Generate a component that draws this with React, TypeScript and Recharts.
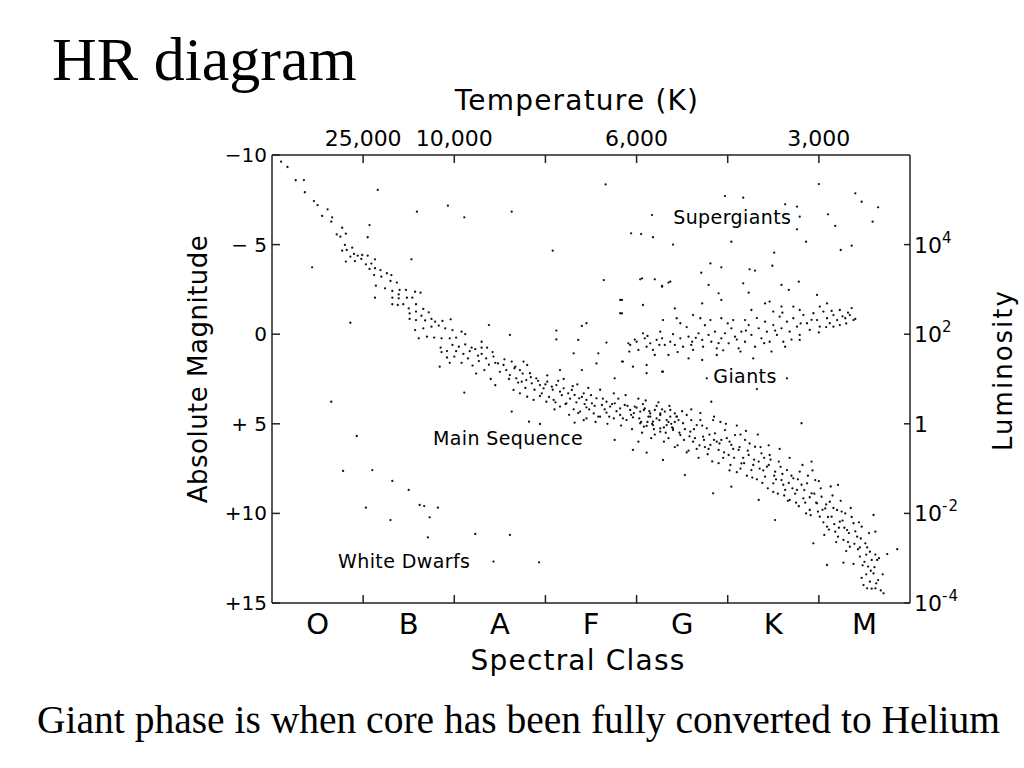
import { ScatterChart, Scatter, XAxis, YAxis, ReferenceDot } from 'recharts';

type Pt = [number, number];

// x = position along the spectral sequence (O = 0..1, B = 1..2, ... M = 6..7), y = absolute magnitude
const spectralClasses = ['O', 'B', 'A', 'F', 'G', 'K', 'M'];
const bottomTicks = [0.5, 1, 1.5, 2, 2.5, 3, 3.5, 4, 4.5, 5, 5.5, 6, 6.5];
const temperatureTicks = [1, 2, 3, 4, 5, 6];
const temperatureLabels: Record<number, string> = { 1: '25,000', 2: '10,000', 4: '6,000', 6: '3,000' };
const magnitudeTicks = [-10, -5, 0, 5, 10, 15];
const magnitudeLabels = ['−10', '− 5', '0', '+ 5', '+10', '+15'];
const luminosityTicks = [-5, 0, 5, 10, 15];
const luminosityBase = ['10', '10', '1', '10', '10'];
const luminosityExp = ['4', '2', '', '-2', '-4'];

const upperMainSequence: Pt[] = [
  [0.10, -9.63], [0.17, -9.33], [0.26, -8.59], [0.35, -8.6], [0.36, -7.92], [0.46, -7.43], [0.50, -7.2],
  [0.61, -6.97], [0.55, -6.6], [0.66, -6.52], [0.65, -6.28], [0.77, -5.94], [0.71, -5.57], [0.75, -5.44],
  [0.81, -5.61], [0.80, -4.98], [0.88, -4.83], [0.77, -4.66], [0.82, -4.7], [0.86, -4.33], [0.90, -4.48],
  [0.94, -4.38], [0.99, -4.42], [1.05, -4.38], [0.81, -4.05], [0.91, -4.08], [0.98, -4.2], [1.03, -3.9],
  [1.09, -3.94], [1.13, -4.18], [1.07, -3.64], [1.13, -3.68], [1.19, -3.58], [1.26, -3.4], [1.31, -3.3],
  [1.12, -3.3], [1.2, -3.21], [1.30, -2.97], [1.37, -2.88], [1.14, -2.71], [1.24, -2.56], [1.32, -2.41],
  [1.4, -2.47], [1.47, -2.47], [1.57, -2.37], [1.63, -2.32], [1.39, -2.22], [1.32, -2.04], [1.39, -2.0],
  [1.48, -2.04], [1.54, -2.04], [1.32, -1.67], [1.38, -1.63], [1.44, -1.67], [1.5, -1.44], [1.58, -1.67],
  [1.66, -1.41], [1.72, -1.22], [1.51, -1.16], [1.58, -1.26], [1.64, -1.03], [1.51, -0.85], [1.58, -0.79],
  [1.68, -0.77], [1.75, -0.85], [1.79, -0.7], [1.87, -0.74], [1.96, -0.83], [1.57, -0.23], [1.66, -0.33],
  [1.75, -0.42], [1.83, -0.48], [1.9, -0.33], [1.98, -0.23], [2.08, -0.14], [2.12, 0.0], [1.61, 0.23],
  [1.7, 0.14], [1.78, 0.19], [1.86, 0.23], [1.95, 0.23], [2.02, 0.19], [1.85, 0.75], [1.92, 0.94],
  [1.98, 0.6], [2.05, 0.7], [2.12, 0.57], [2.19, 0.75], [2.23, 0.83], [2.3, 0.42], [2.3, 0.75], [2.36, 0.75],
  [1.92, 1.3], [2.0, 1.25], [2.08, 1.6], [2.15, 1.35], [2.2, 1.75], [2.27, 1.5], [2.33, 2.0], [2.38, 1.7],
  [2.24, 2.2], [2.4, 2.5], [2.3, 1.1], [2.45, 2.85], [1.86, 1.0], [1.95, 1.6], [2.02, 0.95], [2.1, 1.1],
  [2.17, 0.95], [2.26, 1.2], [2.35, 1.35], [2.42, 1.0],
];

const middleMainSequence: Pt[] = [
  [2.43, 1.25], [2.48, 1.63], [2.54, 1.72], [2.57, 2.0], [2.63, 1.53], [2.67, 1.81], [2.72, 2.0], [2.76, 1.53],
  [2.8, 1.72], [2.83, 2.18], [2.61, 2.28], [2.68, 2.46], [2.74, 2.65], [2.79, 2.56], [2.85, 2.74], [2.9, 2.46],
  [2.94, 2.84], [2.98, 3.02], [3.02, 2.65], [3.07, 2.93], [3.12, 2.84], [3.16, 3.21], [3.2, 3.02], [3.25, 3.3],
  [3.29, 3.11], [3.32, 3.39], [3.37, 3.58], [3.42, 3.3], [3.45, 3.67], [3.51, 3.86], [3.56, 3.58], [3.62, 3.95],
  [3.67, 3.77], [3.71, 4.04], [3.76, 3.86], [3.82, 4.14], [3.87, 3.95], [3.93, 4.23], [3.98, 4.04], [4.04, 4.32],
  [4.09, 4.14], [4.15, 4.42], [4.2, 4.23], [4.26, 4.51], [4.31, 4.32], [4.37, 4.6], [4.42, 4.42], [4.46, 4.79],
  [2.65, 3.11], [2.72, 3.3], [2.8, 3.49], [2.87, 3.67], [2.94, 3.45], [3.01, 3.77], [3.09, 3.67], [3.16, 4.04],
  [3.23, 3.86], [3.31, 4.19], [3.38, 4.32], [3.45, 4.08], [3.53, 4.42], [3.6, 4.6], [3.67, 4.38], [3.75, 4.7],
  [3.82, 4.51], [3.89, 4.79], [3.96, 4.64], [4.04, 4.97], [4.11, 5.12], [4.18, 4.88], [4.26, 5.25], [4.33, 5.07],
  [4.4, 5.35],
  [2.45, 1.6], [2.5, 2.1], [2.55, 1.4], [2.6, 2.5], [2.66, 1.9], [2.7, 2.7], [2.75, 2.2], [2.78, 3.0],
  [2.84, 2.4], [2.88, 3.1], [2.92, 2.6], [2.96, 3.3], [3.0, 2.8], [3.04, 3.5], [3.08, 3.1], [3.11, 3.8],
  [3.14, 2.6], [3.18, 3.4], [3.22, 3.9], [3.27, 3.6], [3.3, 2.9], [3.34, 3.8], [3.36, 4.4], [3.4, 3.5],
  [3.43, 3.9], [3.48, 4.2], [3.5, 3.4], [3.54, 4.0], [3.58, 4.6], [3.63, 3.6], [3.65, 4.2], [3.7, 4.6],
  [3.73, 3.9], [3.78, 4.3], [3.8, 3.6], [3.85, 4.7], [3.9, 4.0], [3.94, 4.5], [4.0, 4.1], [4.03, 4.7],
  [4.07, 3.9], [4.13, 4.6], [4.17, 5.0], [4.22, 4.7], [4.28, 4.2], [4.35, 4.9], [4.39, 5.2], [4.44, 4.6],
  [3.02, 2.3], [3.1, 4.2], [3.2, 2.5], [3.26, 4.5], [3.35, 2.8], [3.42, 4.8], [3.47, 3.0], [3.55, 4.9],
  [3.6, 3.1], [3.68, 5.0], [3.75, 3.3], [3.83, 5.1], [3.88, 3.4], [3.95, 5.3], [4.02, 3.6], [4.06, 5.5],
  [4.1, 3.7], [4.16, 5.8], [4.24, 3.8], [4.3, 6.0], [4.36, 4.0], [4.42, 6.3], [3.97, 4.4], [4.05, 4.9],
  [4.14, 4.3], [4.19, 5.3], [4.25, 4.8], [4.32, 5.5], [4.38, 5.0],
];

const lowerMainSequence: Pt[] = [
  [4.08, 4.23], [4.15, 4.6], [4.08, 5.16], [4.18, 5.07], [4.26, 4.42], [4.26, 5.44], [4.33, 4.79], [4.37, 4.23],
  [4.4, 5.25], [4.44, 4.6], [4.48, 5.63], [4.51, 4.97], [4.55, 4.51], [4.59, 5.44], [4.62, 6.0], [4.66, 5.07],
  [4.7, 4.79], [4.73, 5.72], [4.77, 5.25], [4.81, 6.18], [4.84, 4.79], [4.86, 5.53], [4.9, 6.46], [4.93, 5.9],
  [4.97, 5.35], [5.01, 6.74], [5.04, 6.18], [5.08, 5.63], [5.12, 6.46], [5.15, 7.21], [5.19, 5.9], [5.23, 6.74],
  [5.26, 7.58], [5.3, 6.28], [5.34, 7.11], [5.37, 6.65], [5.41, 7.95], [5.43, 7.39], [5.46, 6.74], [5.5, 8.32],
  [5.52, 7.67], [5.56, 7.11], [5.59, 8.14], [5.63, 8.69], [5.65, 7.58], [5.68, 9.25], [5.72, 8.04], [5.76, 8.69],
  [5.79, 7.67], [5.83, 9.16], [5.87, 8.32], [5.9, 9.81], [5.92, 8.88], [5.96, 8.14], [5.98, 9.44], [6.01, 10.18],
  [6.03, 9.07], [6.07, 9.72], [6.09, 10.74], [6.12, 9.35], [6.14, 10.18], [6.18, 11.02], [6.2, 9.81], [6.23, 10.46],
  [6.27, 11.48], [6.29, 10.0], [6.31, 10.93], [6.34, 11.86], [6.38, 10.55], [6.42, 11.3], [6.45, 12.41], [6.47, 10.74],
  [6.51, 11.67], [6.54, 12.97], [6.56, 12.14], [6.6, 13.35], [6.64, 12.6], [6.65, 13.72], [6.56, 13.81], [6.49, 14.0],
  [6.62, 14.18],
  [4.12, 4.9], [4.2, 5.6], [4.22, 4.0], [4.3, 5.2], [4.35, 5.8], [4.42, 4.9], [4.45, 6.2], [4.53, 5.3],
  [4.57, 6.5], [4.6, 4.8], [4.64, 5.8], [4.68, 6.9], [4.72, 5.1], [4.75, 6.3], [4.8, 5.6], [4.83, 7.1],
  [4.88, 6.0], [4.92, 4.9], [4.95, 6.9], [4.99, 5.8], [5.03, 7.3], [5.06, 6.4], [5.1, 7.7], [5.14, 5.6],
  [5.17, 6.9], [5.21, 7.9], [5.24, 6.1], [5.28, 7.3], [5.32, 8.1], [5.36, 6.3], [5.39, 7.6], [5.44, 8.6],
  [5.47, 7.0], [5.51, 7.9], [5.55, 8.9], [5.58, 7.4], [5.61, 8.4], [5.66, 9.3], [5.7, 7.9], [5.74, 8.9],
  [5.78, 9.6], [5.81, 8.4], [5.85, 9.4], [5.88, 7.9], [5.91, 10.1], [5.95, 8.9], [5.99, 9.9], [6.02, 8.6],
  [6.05, 10.5], [6.08, 9.5], [6.11, 10.9], [6.15, 9.0], [6.17, 10.6], [6.21, 11.3], [6.25, 9.9], [6.28, 10.8],
  [6.32, 11.6], [6.36, 10.2], [6.4, 11.0], [6.43, 12.0], [6.46, 11.4], [6.5, 12.7], [6.53, 11.9], [6.58, 12.6],
  [6.61, 13.0], [6.63, 13.9], [6.58, 14.2], [6.52, 13.4], [6.68, 14.3], [6.47, 13.6], [4.82, 3.77],
  [4.5, 4.3], [4.55, 6.6], [4.6, 4.2], [4.66, 6.4], [4.7, 4.4], [4.78, 6.7], [4.85, 4.6], [4.9, 7.2],
  [4.98, 5.0], [5.02, 7.6], [5.1, 5.1], [5.14, 7.5], [5.2, 5.4], [5.27, 8.0], [5.33, 5.6], [5.38, 8.3],
  [5.45, 6.2], [5.5, 8.8], [5.57, 6.4], [5.62, 9.0], [5.68, 6.9], [5.75, 9.4], [5.82, 7.3], [5.86, 10.0],
  [5.93, 7.6], [6.0, 8.2], [6.06, 11.2], [6.13, 8.5], [6.19, 11.6], [6.24, 9.3], [6.3, 12.1], [6.35, 9.7],
  [6.44, 10.5], [6.48, 12.9], [6.55, 11.1], [6.66, 12.5], [6.7, 13.4],
  [4.47, 5.5], [4.52, 5.9], [4.58, 5.7], [4.63, 5.3], [4.69, 6.2], [4.74, 5.9], [4.79, 6.4], [4.85, 5.9],
  [4.91, 6.1], [4.96, 6.6], [5.02, 6.0], [5.07, 6.9], [5.13, 6.3], [5.18, 7.2], [5.22, 6.5], [5.29, 7.0],
  [5.35, 7.5], [5.4, 6.9], [5.45, 7.3], [5.53, 8.1], [5.6, 7.8], [5.67, 8.3], [5.71, 8.6], [5.77, 8.1],
  [5.84, 8.7], [5.9, 9.1], [5.97, 9.4], [6.04, 9.8], [6.1, 10.2], [6.16, 9.7], [6.22, 10.8], [6.26, 10.4],
  [6.33, 11.1], [6.39, 11.7], [6.45, 11.9], [6.52, 12.3], [6.57, 13.2], [6.62, 12.3],
];

const giants: Pt[] = [
  [3.93, 0.6], [3.92, 0.97], [4.0, 0.42], [4.07, -0.05], [4.09, 0.23], [4.15, 0.51], [4.18, 0.88], [4.22, 0.32],
  [4.28, 0.23], [4.31, 0.6], [4.37, 0.42], [4.35, 1.16], [4.42, 0.6], [4.48, 0.23], [4.51, 0.7], [4.57, 0.14],
  [4.61, 0.42], [4.62, 0.88], [4.68, -0.05], [4.72, 0.32], [4.73, 0.7], [4.79, 0.04], [4.82, 0.42], [4.86, -0.14],
  [4.88, 0.79], [4.93, 0.23], [4.97, -0.05], [5.01, 0.51], [5.04, -0.33], [5.08, 0.14], [5.12, 0.79], [5.15, -0.14],
  [5.19, 0.42], [5.23, -0.51], [5.26, 0.04], [5.3, 0.7], [5.34, -0.33], [5.37, 0.23], [5.41, -0.7], [5.43, -0.14],
  [5.46, 0.42], [5.5, -0.51], [5.54, 0.04], [5.57, -0.98], [5.59, -0.33], [5.63, 0.7], [5.65, -0.7], [5.68, -0.14],
  [5.72, -0.89], [5.76, -0.42], [5.79, 0.04], [5.83, -1.07], [5.87, -0.61], [5.9, -0.24], [5.94, -1.17], [5.98, -0.79],
  [6.01, -0.42], [6.05, -1.26], [6.09, -0.89], [6.12, -0.61], [6.16, -1.07], [6.2, -0.79], [6.23, -0.51], [6.29, -0.89],
  [6.34, -1.07], [6.38, -0.79], [5.41, -1.72], [5.46, -1.82], [5.5, -1.26], [5.72, -1.54], [5.79, -1.35], [5.59, -1.54],
  [5.26, -1.35], [5.19, -0.79], [5.06, -0.79], [4.93, -0.89], [4.81, -0.79], [4.7, -0.89], [4.62, -1.07], [4.44, -0.89],
  [4.48, -0.61], [4.29, -0.79], [4.26, -0.14], [4.11, 0.7], [4.02, 0.88], [4.2, 1.16], [4.57, 1.35], [4.72, 1.44],
  [4.88, 1.16], [5.14, 0.97], [5.28, 1.35], [5.48, 0.97], [5.61, 0.42], [5.79, 0.32], [6.16, -0.42], [6.09, -1.72],
  [6.23, -1.35], [6.01, -1.54], [6.36, -1.46], [6.4, -0.85], [6.32, -1.2],
  [4.4, 0.0], [4.55, -0.4], [4.65, 0.2], [4.75, -0.5], [4.9, 0.5], [5.0, -0.6], [5.1, 0.3], [5.2, -0.2],
  [5.32, -0.9], [5.4, 0.5], [5.52, -0.2], [5.6, -1.2], [5.7, 0.3], [5.8, -0.6], [5.92, -0.8], [6.0, -0.1],
  [6.08, -0.4], [6.14, -1.3], [6.26, -1.0], [6.3, -0.6], [4.25, 0.6], [4.12, 0.1], [3.98, 0.3], [4.45, 1.0],
  [4.6, 0.6], [4.95, 0.9],
];

const supergiants: Pt[] = [
  [3.66, -8.36], [6.0, -8.38], [4.97, -7.71], [5.17, -7.62], [6.4, -7.86], [6.47, -7.39], [5.63, -7.25], [5.76, -7.12],
  [6.65, -7.08], [6.1, -6.69], [6.18, -6.04], [6.59, -6.28], [4.17, -6.65], [5.79, -6.56], [5.76, -5.85], [3.94, -5.63],
  [4.05, -5.59], [4.18, -5.41], [4.4, -5.0], [5.04, -5.16], [5.86, -5.16], [6.24, -4.7], [6.36, -4.94], [3.08, -4.66],
  [5.51, -4.55], [4.81, -3.95], [4.93, -3.73], [4.71, -3.43], [5.24, -3.62], [5.3, -3.55], [5.49, -3.82], [4.04, -3.06],
  [4.2, -3.06], [3.64, -3.02], [3.82, -1.91], [3.84, -1.16], [4.28, -2.69], [4.35, -2.88],
  [3.84, -1.91], [4.07, -1.63], [4.28, -2.65], [4.37, -2.93], [4.79, -2.75], [4.9, -2.28], [4.93, -1.91], [5.17, -2.84],
  [5.23, -2.32], [5.59, -2.75], [5.67, -2.47], [5.78, -2.93], [5.98, -2.19], [4.72, -1.72], [4.42, -1.44], [4.06, -3.12],
  [3.82, -1.17],
];

const whiteDwarfs: Pt[] = [
  [0.78, 7.63], [1.1, 7.58], [1.32, 8.19], [1.5, 8.69], [1.03, 9.68], [1.3, 10.37], [1.62, 9.53], [1.67, 9.59],
  [1.82, 9.68], [1.73, 10.22], [1.71, 11.34], [2.23, 11.15], [2.61, 11.2], [2.43, 12.69], [2.93, 12.73],
];

const scatteredStars: Pt[] = [
  [1.16, -8.05], [1.05, -5.41], [1.07, -6.09], [1.59, -6.84], [1.93, -7.17], [2.11, -6.52], [1.53, -4.18], [0.44, -3.73],
  [0.86, -0.64], [1.13, -2.04], [2.63, -6.84], [2.38, -0.51], [0.65, 3.77], [0.93, 5.68], [1.84, 1.81],
  [2.11, 3.26], [2.63, 4.32], [2.82, 4.88], [2.94, 5.01], [3.32, 4.94], [3.45, 4.7], [3.16, 2.0], [2.61, 0.04],
  [3.12, -0.2], [3.12, 0.29], [3.36, 0.32], [3.31, 1.07], [3.58, 1.07], [3.45, -0.61], [3.4, -0.46], [3.67, 0.47],
  [3.56, 1.63], [3.4, 2.0], [3.84, 1.53], [3.91, 0.51], [3.96, 1.81], [4.11, 2.18], [4.28, 2.09], [3.76, 5.9],
  [3.96, 6.46], [4.02, 6.0], [4.11, 6.61], [3.85, 1.53], [4.11, 1.72], [4.29, 2.09], [3.76, 2.46], [5.65, 2.46],
  [4.77, 2.46], [5.32, 3.06], [4.29, 7.02], [4.53, 7.86], [4.84, 8.88], [5.04, 8.51], [5.52, 10.37], [5.81, 4.97],
  [5.92, 7.11], [6.21, 8.41], [6.09, 12.88], [6.27, 12.75], [6.38, 12.82], [6.6, 10.09], [6.62, 11.02], [6.75, 12.27],
  [6.86, 12.0], [6.71, 14.46], [6.53, 14.18], [5.34, 9.25], [5.94, 11.67],
];

const annotations = [
  { text: 'Supergiants', s: 5.05, m: -6.54 },
  { text: 'Giants', s: 5.19, m: 2.33 },
  { text: 'Main Sequence', s: 2.59, m: 5.79 },
  { text: 'White Dwarfs', s: 1.45, m: 12.66 },
];

const toRows = (pts: Pt[]) => pts.map(([s, m]) => ({ s, m }));

const INK = '#222';
const FONT = '"DejaVu Sans", Verdana, sans-serif';
const SERIF = '"Liberation Serif", "Times New Roman", serif';

const StarDot = (props: any) => <circle cx={props.cx} cy={props.cy} r={1.15} fill="#111" />;

const BottomTick = (props: any) => {
  const { x, y, payload } = props;
  const v = payload.value as number;
  if (Number.isInteger(v)) {
    return <line x1={x} y1={y} x2={x} y2={y - 8} stroke={INK} strokeWidth={1.5} />;
  }
  return (
    <text x={x} y={y + 31} textAnchor="middle" fontFamily={FONT} fontSize={29} fill="#000">
      {spectralClasses[Math.floor(v)]}
    </text>
  );
};

const TopTick = (props: any) => {
  const { x, y, payload } = props;
  const label = temperatureLabels[payload.value];
  return (
    <g>
      <line x1={x} y1={y} x2={x} y2={y + 8} stroke={INK} strokeWidth={1.5} />
      {label && (
        <text x={x} y={y - 9} textAnchor="middle" fontFamily={FONT} fontSize={22} fill="#000">
          {label}
        </text>
      )}
    </g>
  );
};

const LeftTick = (props: any) => {
  const { x, y, payload } = props;
  const i = magnitudeTicks.indexOf(payload.value);
  return (
    <g>
      <line x1={x} y1={y} x2={x + 8} y2={y} stroke={INK} strokeWidth={1.5} />
      <text x={x - 5} y={y + 7} textAnchor="end" fontFamily={FONT} fontSize={20} fill="#000">
        {magnitudeLabels[i]}
      </text>
    </g>
  );
};

const RightTick = (props: any) => {
  const { x, y, payload } = props;
  const i = luminosityTicks.indexOf(payload.value);
  return (
    <g>
      <line x1={x} y1={y} x2={x - 6} y2={y} stroke={INK} strokeWidth={1.5} />
      <text x={x + 4} y={y + 8} fontFamily={FONT} fontSize={22} fill="#000">
        {luminosityBase[i]}
        {luminosityExp[i] && (
          <tspan dy={-10} fontSize={15} letterSpacing={1}>
            {luminosityExp[i]}
          </tspan>
        )}
      </text>
    </g>
  );
};

export default function App() {
  const axisLine = { stroke: INK, strokeWidth: 1.5 };
  return (
    <div style={{ position: 'absolute', left: 0, top: 0, width: 1024, height: 768, background: '#fff' }}>
      <ScatterChart width={1024} height={768} margin={{ top: 125, bottom: 135, left: 212, right: 54 }}>
        <XAxis xAxisId="bottom" type="number" dataKey="s" domain={[0, 7]} ticks={bottomTicks} interval={0}
          tick={BottomTick} tickLine={false} tickSize={0} tickMargin={0} axisLine={axisLine} height={30} allowDataOverflow />
        <XAxis xAxisId="top" orientation="top" type="number" dataKey="s" domain={[0, 7]} ticks={temperatureTicks} interval={0}
          tick={TopTick} tickLine={false} tickSize={0} tickMargin={0} axisLine={axisLine} height={30} allowDataOverflow />
        <YAxis yAxisId="mag" type="number" dataKey="m" domain={[-10, 15]} reversed ticks={magnitudeTicks} interval={0}
          tick={LeftTick} tickLine={false} tickSize={0} tickMargin={0} axisLine={axisLine} width={60} allowDataOverflow />
        <YAxis yAxisId="lum" orientation="right" type="number" dataKey="m" domain={[-10, 15]} reversed ticks={luminosityTicks} interval={0}
          tick={RightTick} tickLine={false} tickSize={0} tickMargin={0} axisLine={axisLine} width={60} allowDataOverflow />
        <Scatter xAxisId="bottom" yAxisId="mag" data={toRows(upperMainSequence)} shape={StarDot} isAnimationActive={false} />
        <Scatter xAxisId="bottom" yAxisId="mag" data={toRows(middleMainSequence)} shape={StarDot} isAnimationActive={false} />
        <Scatter xAxisId="bottom" yAxisId="mag" data={toRows(lowerMainSequence)} shape={StarDot} isAnimationActive={false} />
        <Scatter xAxisId="bottom" yAxisId="mag" data={toRows(giants)} shape={StarDot} isAnimationActive={false} />
        <Scatter xAxisId="top" yAxisId="lum" data={toRows(supergiants)} shape={StarDot} isAnimationActive={false} />
        <Scatter xAxisId="bottom" yAxisId="mag" data={toRows(whiteDwarfs)} shape={StarDot} isAnimationActive={false} />
        <Scatter xAxisId="bottom" yAxisId="mag" data={toRows(scatteredStars)} shape={StarDot} isAnimationActive={false} />
        {annotations.map((a) => (
          <ReferenceDot key={a.text} xAxisId="bottom" yAxisId="mag" x={a.s} y={a.m} r={0} fill="none" stroke="none"
            ifOverflow="visible"
            label={{ value: a.text, position: 'center', fontFamily: FONT, fontSize: 19, fill: '#000', letterSpacing: 0.4 }} />
        ))}
      </ScatterChart>
      <svg width={1024} height={768} style={{ position: 'absolute', left: 0, top: 0, pointerEvents: 'none' }}>
        <text x={52} y={80} fontFamily={SERIF} fontSize={62} fill="#000">HR diagram</text>
        <text x={577} y={110} textAnchor="middle" fontFamily={FONT} fontSize={28} letterSpacing={1.2} fill="#000">
          Temperature (K)
        </text>
        <text x={578} y={670} textAnchor="middle" fontFamily={FONT} fontSize={28} letterSpacing={1.2} fill="#000">
          Spectral Class
        </text>
        <text x={207} y={369} transform="rotate(-90 207 369)" textAnchor="middle" fontFamily={FONT} fontSize={26}
          letterSpacing={0.5} fill="#000">
          Absolute Magnitude
        </text>
        <text x={1012} y={370} transform="rotate(-90 1012 370)" textAnchor="middle" fontFamily={FONT} fontSize={26}
          letterSpacing={2} fill="#000">
          Luminosity
        </text>
        <text x={37} y={733} fontFamily={SERIF} fontSize={39.5} fill="#000">
          Giant phase is when core has been fully converted to Helium
        </text>
      </svg>
    </div>
  );
}
